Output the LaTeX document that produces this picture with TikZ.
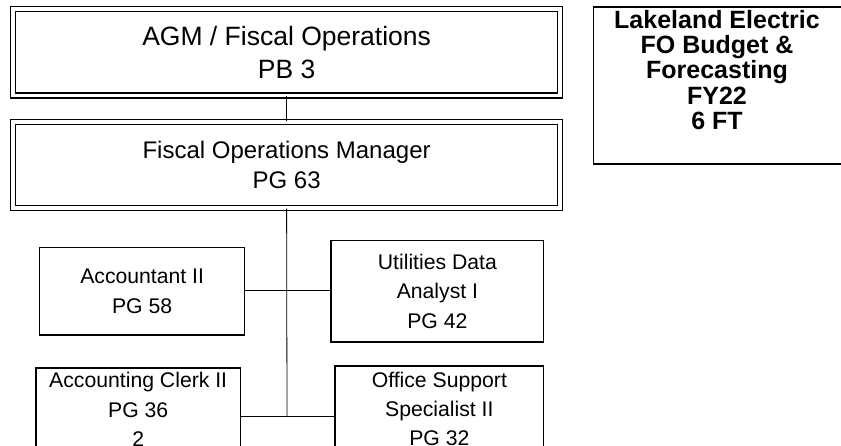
\documentclass[tikz,border=0pt]{standalone}
\usepackage{fontspec}
\setmainfont{Liberation Sans}
\begin{document}
\begin{tikzpicture}[x=1pt,y=-1pt,
  dbox/.style={draw, double, line width=1.1pt, double distance=3.9pt, inner sep=0pt, align=center},
  sbox/.style={draw, line width=1.3pt, inner sep=0pt, align=center, font=\fontsize{21.2}{29.4}\selectfont},
  conn/.style={line width=0.8pt}]
\clip (0,0) rectangle (841,446);
\node[dbox, minimum width=546.4pt, minimum height=86.4pt, font=\fontsize{26.5}{33}\selectfont] (agm) at (286.6,52.3) {AGM / Fiscal Operations\\PB 3};
\node[dbox, minimum width=546.4pt, minimum height=86.2pt, font=\fontsize{24}{30}\selectfont] (fom) at (286.6,165.1) {Fiscal Operations Manager\\PG 63};
\node[sbox, minimum width=205.3pt, minimum height=87.3pt] (acc) at (142.15,291.25) {Accountant II\\PG 58};
\node[sbox, minimum width=212.8pt, minimum height=101.5pt] (uda) at (437.4,291.25) {Utilities Data\\Analyst I\\PG 42};
\node[sbox, minimum width=204.6pt, minimum height=83.2pt] (clerk) at (138.2,409.5) {Accounting Clerk II\\PG 36\\2};
\node[sbox, minimum width=208.9pt, minimum height=86pt] (oss) at (439.35,409) {Office Support\\Specialist II\\PG 32};
\node[draw, line width=1.2pt, inner sep=0pt, minimum width=249.4pt, minimum height=157pt] (title) at (718.3,85.6) {};
\node[inner sep=0pt, align=center, font=\fontsize{25}{25.2}\bfseries\selectfont] (titletext) at (717,70) {Lakeland Electric\\FO Budget \&\\Forecasting\\FY22\\6 FT};
\coordinate (j1) at (287,290.7);
\coordinate (j2) at (287,416.7);
\draw[conn] (agm.south) -- (fom.north);
\draw[conn] (fom.south) -- (j2);
\draw[conn] (acc.east |- j1) -- (uda.west |- j1);
\draw[conn] (clerk.east |- j2) -- (oss.west |- j2);
\end{tikzpicture}
\end{document}
